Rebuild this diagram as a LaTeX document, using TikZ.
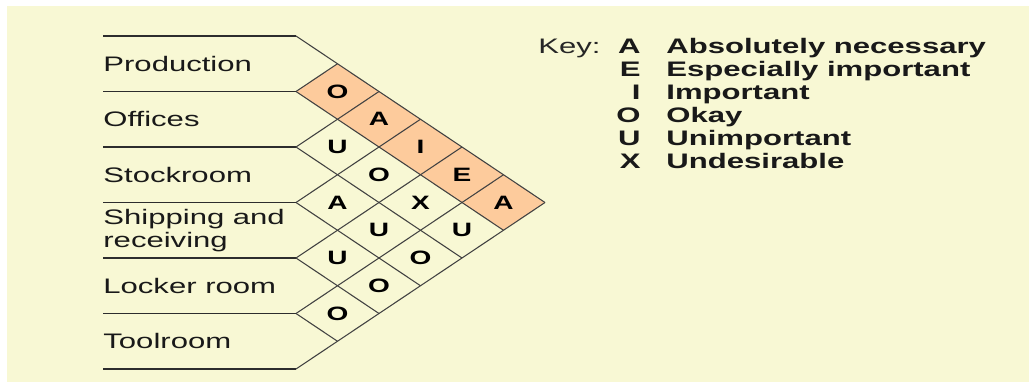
\documentclass[tikz,border=0pt]{standalone}
\usepackage{fontspec}
\setmainfont{Liberation Sans}
\definecolor{paper}{RGB}{248,248,212}
\definecolor{cellorange}{RGB}{253,203,156}
\definecolor{ink}{RGB}{45,45,45}
\usetikzlibrary{positioning}

\begin{document}
\begin{tikzpicture}[x=0.75pt, y=-0.75pt,
  rowline/.style={draw=ink, line width=1.3pt},
  gridline/.style={draw=ink!90, line width=0.8pt},
  rowlabel/.style={anchor=west, xscale=1.48, inner sep=0pt, align=left, text=black!90, font=\fontsize{15.75}{17}\selectfont},
  cellmark/.style={xscale=1.45, inner sep=0pt, text=black, font=\fontsize{14.5}{15}\selectfont\bfseries},
  keyletter/.style={anchor=base east, xscale=1.48, inner sep=0pt, text=black!90, font=\fontsize{15.75}{17}\selectfont\bfseries},
  keytext/.style={anchor=base west, xscale=1.48, inner sep=0pt, text=black!90, font=\fontsize{15.75}{17}\selectfont\bfseries},
  keyword/.style={anchor=base west, xscale=1.48, inner sep=0pt, text=black!85, font=\fontsize{15.75}{17}\selectfont}]
\useasboundingbox (0,0) rectangle (1029,382);
\fill[white] (0,0) rectangle (1029,382);
\fill[paper] (7,6) rectangle (1029,382);

% departments
\node[rowlabel] (prod) at (103,63.75) {Production};
\node[rowlabel] (off) at (103,119.25) {Offices};
\node[rowlabel] (stock) at (103,174.75) {Stockroom};
\node[rowlabel] (ship) at (103,230.25) {Shipping and\\receiving};
\node[rowlabel] (locker) at (103,285.75) {Locker room};
\node[rowlabel] (tool) at (103,341.25) {Toolroom};

% production row is shaded
\foreach \j in {1,...,5}
  \fill[cellorange] ({296+41.5*(\j-1)}, {36+27.75*(\j+1)}) -- ++(41.5,-27.75) -- ++(41.5,27.75) -- ++(-41.5,27.75) -- cycle;

% grid of diamonds
\foreach \k in {0,...,6} {
  \coordinate (e\k) at (296, {36+55.5*\k});
  \coordinate (s\k) at (103, {36+55.5*\k});
  \draw[rowline] (s\k) -- (e\k);
  \draw[gridline] (e\k) -- ++({41.5*(6-\k)}, {27.75*(6-\k)});
  \draw[gridline] (e\k) -- ++({41.5*\k}, {-27.75*\k});
}

% ratings
\foreach \i/\j/\r in {0/1/O, 0/2/A, 0/3/I, 0/4/E, 0/5/A,
                      1/2/U, 1/3/O, 1/4/X, 1/5/U,
                      2/3/A, 2/4/U, 2/5/O,
                      3/4/U, 3/5/O,
                      4/5/O}
  \node[cellmark] (c\i\j) at ({296+41.5*(\j-\i)}, {36+27.75*(\i+\j+1)}) {\r};

% key
\node[keyword] (key) at (538,53) {Key:};
\foreach \n/\l/\t in {0/A/Absolutely necessary, 1/E/Especially important,
                      2/I/Important, 3/O/Okay, 4/U/Unimportant, 5/X/Undesirable} {
  \node[keyletter] (k\l) at (641, {53+23*\n}) {\l};
  \node[keytext] (t\l) at (666, {53+23*\n}) {\t};
}
\end{tikzpicture}
\end{document}
